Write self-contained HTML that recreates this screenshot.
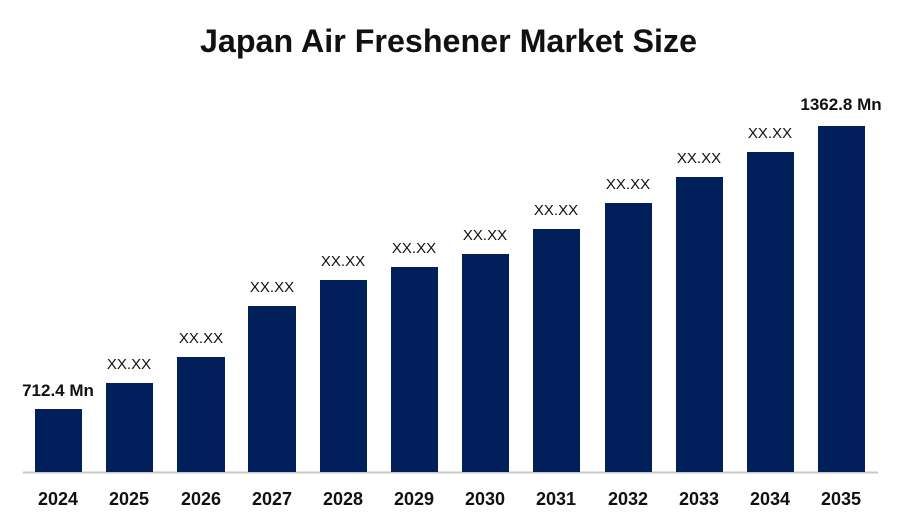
<!DOCTYPE html>
<html><head><style>
body{margin:0;width:900px;height:525px;background:#fff;overflow:hidden}
svg{display:block}
text{font-family:"Liberation Sans",sans-serif;fill:#111}
</style></head><body>
<svg width="900" height="525" xmlns="http://www.w3.org/2000/svg">
<text x="200" y="52" textLength="497" lengthAdjust="spacingAndGlyphs" font-size="32" font-weight="bold">Japan Air Freshener Market Size</text>
<line x1="23" y1="472.5" x2="878" y2="472.5" stroke="#c8c8c8" stroke-width="2"/>
<g fill="#001f5b">
<rect x="35" y="409" width="47" height="63"/>
<rect x="106" y="383" width="47" height="89"/>
<rect x="177" y="357" width="48" height="115"/>
<rect x="248" y="306" width="48" height="166"/>
<rect x="320" y="280" width="47" height="192"/>
<rect x="391" y="267" width="47" height="205"/>
<rect x="462" y="254" width="47" height="218"/>
<rect x="533" y="229" width="47" height="243"/>
<rect x="605" y="203" width="47" height="269"/>
<rect x="676" y="177" width="47" height="295"/>
<rect x="747" y="152" width="47" height="320"/>
<rect x="818" y="126" width="47" height="346"/>
</g>
<g font-size="15" text-anchor="middle">
<text x="58" y="396" font-weight="bold" font-size="17">712.4 Mn</text>
<text x="129" y="369">XX.XX</text>
<text x="201" y="343">XX.XX</text>
<text x="272" y="292">XX.XX</text>
<text x="343" y="266">XX.XX</text>
<text x="414" y="253">XX.XX</text>
<text x="485" y="240">XX.XX</text>
<text x="556" y="215">XX.XX</text>
<text x="628" y="189">XX.XX</text>
<text x="699" y="163">XX.XX</text>
<text x="770" y="138">XX.XX</text>
<text x="841" y="110" font-weight="bold" font-size="17">1362.8 Mn</text>
</g>
<g font-size="18" font-weight="bold" text-anchor="middle">
<text x="58" y="505">2024</text>
<text x="129" y="505">2025</text>
<text x="201" y="505">2026</text>
<text x="272" y="505">2027</text>
<text x="343" y="505">2028</text>
<text x="414" y="505">2029</text>
<text x="485" y="505">2030</text>
<text x="556" y="505">2031</text>
<text x="628" y="505">2032</text>
<text x="699" y="505">2033</text>
<text x="770" y="505">2034</text>
<text x="841" y="505">2035</text>
</g>
</svg>
</body></html>
